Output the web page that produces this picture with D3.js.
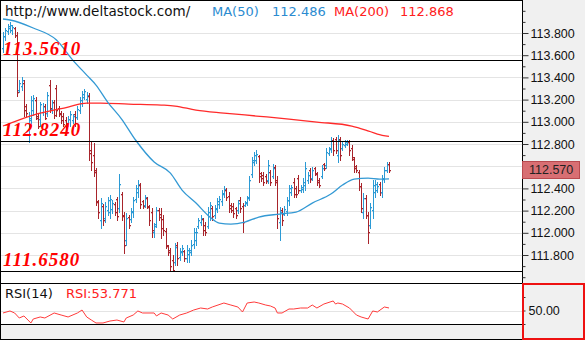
<!DOCTYPE html>
<html><head><meta charset="utf-8">
<script src="https://cdn.jsdelivr.net/npm/d3@7"></script>
<style>html,body{margin:0;padding:0;background:#fff}svg{display:block}</style>
</head><body>
<svg id="chart" width="585" height="340"></svg>
<script>
// ---------------- DATA ----------------
const opens = [113.665,113.773,113.818,113.845,113.827,113.845,113.782,113.286,113.322,113.349,
113.142,112.890,113.016,113.106,113.196,113.052,113.025,113.088,113.142,113.079,
113.331,113.115,113.178,113.304,113.124,113.079,113.052,113.016,112.980,113.025,
113.016,113.070,113.043,113.106,113.169,113.223,113.205,113.232,112.746,112.701,
112.547,112.277,112.115,112.241,112.133,112.205,112.187,112.214,112.259,112.304,
112.223,112.349,112.160,111.935,112.142,112.124,112.187,112.304,112.367,112.430,
112.286,112.250,112.313,112.232,112.187,112.007,112.079,112.205,112.169,112.124,
112.016,111.881,111.845,111.755,111.737,111.890,111.782,111.827,111.836,111.773,
111.809,111.827,111.899,111.935,112.061,112.097,112.124,112.070,112.061,112.151,
112.223,112.160,112.214,112.259,112.286,112.349,112.385,112.331,112.250,112.241,
112.223,112.205,112.295,112.241,112.250,112.268,112.322,112.529,112.638,112.656,
112.692,112.538,112.520,112.511,112.475,112.547,112.511,112.592,112.475,112.097,
112.205,112.169,112.196,112.295,112.367,112.457,112.403,112.493,112.385,112.394,
112.430,112.475,112.565,112.493,112.583,112.529,112.475,112.511,112.620,112.611,
112.719,112.764,112.836,112.845,112.701,112.845,112.764,112.791,112.800,112.818,
112.764,112.665,112.602,112.547,112.421,112.187,112.313,112.160,112.070,112.205,
112.367,112.385,112.439,112.367,112.484,112.565,112.620];
const highs = [113.809,113.845,113.881,113.899,113.872,113.854,113.809,113.376,113.403,113.376,
113.160,113.088,113.232,113.241,113.223,113.070,113.178,113.169,113.160,113.268,
113.376,113.196,113.196,113.331,113.142,113.097,113.079,113.043,113.052,113.097,
113.070,113.097,113.142,113.223,113.277,113.295,113.268,113.259,112.818,112.809,
112.583,112.295,112.313,112.259,112.277,112.322,112.340,112.295,112.277,112.322,
112.529,112.367,112.187,112.178,112.160,112.223,112.322,112.430,112.475,112.448,
112.295,112.340,112.322,112.250,112.223,112.088,112.232,112.223,112.223,112.160,
112.043,111.890,111.863,111.800,111.908,111.917,111.863,111.890,111.845,111.890,
111.863,111.935,112.043,112.043,112.133,112.160,112.133,112.097,112.232,112.277,
112.241,112.250,112.313,112.331,112.385,112.421,112.403,112.367,112.268,112.268,
112.232,112.295,112.322,112.268,112.286,112.331,112.511,112.683,112.728,112.746,
112.701,112.547,112.547,112.529,112.656,112.565,112.620,112.611,112.511,112.232,
112.223,112.241,112.322,112.430,112.430,112.493,112.421,112.520,112.430,112.493,
112.638,112.547,112.583,112.592,112.592,112.547,112.493,112.611,112.629,112.764,
112.773,112.863,112.854,112.863,112.881,112.863,112.818,112.836,112.836,112.836,
112.791,112.683,112.611,112.565,112.448,112.358,112.340,112.187,112.268,112.475,
112.475,112.457,112.457,112.520,112.592,112.638,112.638];
const lows = [113.629,113.737,113.791,113.809,113.791,113.764,113.232,113.268,113.286,113.052,
113.052,112.818,112.962,113.061,113.025,112.944,112.962,113.061,113.025,113.052,
113.088,113.079,113.034,113.052,113.052,112.989,112.962,112.935,112.962,112.962,
112.989,112.962,113.025,113.079,113.142,113.205,113.169,112.656,112.565,112.511,
112.250,112.133,112.043,112.070,112.097,112.160,112.133,112.178,112.160,112.115,
112.187,112.115,111.818,111.890,112.043,112.097,112.142,112.277,112.322,112.223,
112.223,112.232,112.223,112.070,111.962,111.962,112.052,112.115,111.953,111.980,
111.863,111.800,111.638,111.638,111.710,111.710,111.755,111.800,111.746,111.737,
111.737,111.800,111.863,111.890,112.043,112.070,111.980,111.980,112.043,112.115,
112.115,112.133,112.187,112.223,112.250,112.322,112.295,112.187,112.187,112.142,
112.133,112.178,112.187,112.007,112.241,112.250,112.295,112.502,112.611,112.629,
112.457,112.466,112.430,112.448,112.448,112.430,112.493,112.430,112.043,111.935,
112.070,112.160,112.160,112.250,112.340,112.322,112.322,112.358,112.367,112.367,
112.385,112.448,112.457,112.475,112.520,112.430,112.412,112.493,112.565,112.583,
112.701,112.728,112.701,112.719,112.638,112.656,112.746,112.773,112.791,112.701,
112.656,112.547,112.547,112.385,112.187,112.133,112.133,111.908,112.043,112.133,
112.322,112.367,112.340,112.322,112.457,112.547,112.547];
const closes = [113.773,113.827,113.863,113.872,113.854,113.782,113.268,113.349,113.376,113.106,
113.079,113.034,113.196,113.214,113.034,112.962,113.160,113.142,113.034,113.241,
113.124,113.178,113.061,113.106,113.070,113.016,112.980,112.953,113.025,113.070,
113.052,112.989,113.115,113.196,113.250,113.277,113.241,112.719,112.638,112.565,
112.286,112.187,112.268,112.115,112.241,112.295,112.304,112.268,112.187,112.151,
112.439,112.151,111.890,112.133,112.070,112.196,112.295,112.403,112.439,112.259,
112.241,112.322,112.241,112.115,112.025,112.061,112.205,112.142,112.043,112.025,
111.890,111.827,111.701,111.665,111.872,111.773,111.836,111.863,111.773,111.845,
111.845,111.890,112.007,112.007,112.115,112.133,112.025,112.007,112.187,112.250,
112.151,112.223,112.286,112.304,112.358,112.394,112.322,112.223,112.205,112.178,
112.160,112.268,112.223,112.097,112.277,112.313,112.475,112.656,112.701,112.710,
112.511,112.493,112.457,112.466,112.611,112.457,112.583,112.457,112.133,112.187,
112.115,112.214,112.295,112.403,112.412,112.349,112.349,112.385,112.412,112.457,
112.583,112.520,112.484,112.565,112.538,112.457,112.430,112.583,112.583,112.728,
112.755,112.836,112.746,112.746,112.836,112.701,112.800,112.818,112.827,112.746,
112.683,112.583,112.565,112.421,112.223,112.313,112.160,112.007,112.232,112.430,
112.439,112.421,112.367,112.493,112.565,112.620,112.570];

// Moving averages (bar index, value)
const ma50Idx = [0,3,13,23,30,36,40,45,51,57,65,72,77,83,89,93,98,104,110,119,126,133,141,146,151,157,162,166];
const ma50Val = [113.926,113.917,113.845,113.737,113.556,113.421,113.331,113.178,113.025,112.836,112.638,112.538,112.385,112.268,112.142,112.088,112.079,112.097,112.142,112.169,112.187,112.268,112.349,112.430,112.484,112.493,112.484,112.486];
const ma200Idx = [0,13,28,36,42,54,68,74,83,95,109,123,135,150,156,161,166];
const ma200Val = [112.962,113.061,113.133,113.169,113.169,113.160,113.151,113.142,113.106,113.079,113.052,113.025,112.998,112.962,112.926,112.890,112.868];

// RSI(14) (bar index, value)
const rsiIdx = [0,3,5,7,9,12,13,16,18,22,25,28,32,34,36,38,40,43,46,49,52,53,56,58,60,65,66,68,71,73,76,79,82,85,88,90,95,98,101,103,105,108,110,113,115,117,118,120,123,125,128,131,133,135,138,142,143,144,146,149,152,154,157,159,161,164,166];
const rsiVal = [46.3,49.3,46.3,38.9,41.9,31.5,37.4,40.4,38.9,46.3,43.3,40.4,46.3,50.7,40.4,35.9,31.5,31.5,34.4,35.9,33.0,38.9,43.3,49.3,46.3,46.3,41.9,46.3,43.3,37.4,43.3,46.3,50.7,53.7,52.2,55.2,61.1,58.1,55.2,47.8,61.1,62.6,61.1,58.1,56.7,53.7,46.3,46.3,52.2,52.2,53.7,53.7,58.1,53.7,59.6,64.1,59.6,61.1,59.6,53.7,43.3,40.4,37.4,49.3,47.8,55.2,53.771];

const levels = [113.561, 112.824, 111.658];
const levelLabels = ["113.5610", "112.8240", "111.6580"];
const priceTicks = [113.8,113.6,113.4,113.2,113.0,112.8,112.6,112.4,112.2,112.0,111.8];
const minorTicks = [114.0,113.9,113.7,113.5,113.3,113.1,112.9,112.7,112.5,112.3,112.1,111.9,111.7,111.6];
const rsiTicks = [70, 50, 30];
const lastPrice = 112.570;
const ma50Last = 112.486, ma200Last = 112.868, rsiLast = 53.771;
const siteText = "http://www.deltastock.com/";

// ---------------- CHART ----------------
const svg = d3.select("#chart");
const W = 585, H = 340, plotR = 522;
const mainBot = 272, rsiTop = 283, rsiBot = 324;
const UP = "#2b9ad5", DOWN = "#a8242b";
const x = d3.scaleLinear().domain([0, closes.length - 1]).range([3, 389]);
const y = d3.scaleLinear().domain([111.8, 113.8]).range([255, 33]);
const yr = d3.scaleLinear().domain([30, 70]).range([324, 297]);

svg.append("rect").attr("width", W).attr("height", H).attr("fill", "#fff");
svg.append("rect").attr("x", plotR).attr("y", 0).attr("width", W - plotR).attr("height", H).attr("fill", "#f0f0f0");
svg.append("rect").attr("x", 0).attr("y", rsiBot).attr("width", plotR).attr("height", H - rsiBot).attr("fill", "#f0f0f0");

svg.append("clipPath").attr("id", "mainClip").append("rect")
  .attr("x", 1).attr("y", 1).attr("width", plotR - 1).attr("height", mainBot - 1);
svg.append("clipPath").attr("id", "rsiClip").append("rect")
  .attr("x", 1).attr("y", rsiTop + 1).attr("width", plotR - 1).attr("height", rsiBot - rsiTop - 1);

// grid
svg.append("g").selectAll("line").data(priceTicks).join("line")
  .attr("x1", 1).attr("x2", plotR)
  .attr("y1", d => Math.round(y(d)) + 0.5).attr("y2", d => Math.round(y(d)) + 0.5)
  .attr("stroke", "#e4e4e4").attr("stroke-width", 1);
svg.append("line").attr("x1", 1).attr("x2", plotR)
  .attr("y1", Math.round(yr(50)) + 0.5).attr("y2", Math.round(yr(50)) + 0.5)
  .attr("stroke", "#e4e4e4");

// bars
const main = svg.append("g").attr("clip-path", "url(#mainClip)");
const bars = main.append("g").selectAll("g").data(d3.range(closes.length)).join("g")
  .attr("fill", i => closes[i] >= opens[i] ? UP : DOWN);
bars.append("rect")
  .attr("x", i => Math.round(x(i)))
  .attr("y", i => Math.round(y(highs[i])))
  .attr("width", 1)
  .attr("height", i => Math.max(1, Math.round(y(lows[i])) - Math.round(y(highs[i])) + 1));
bars.append("rect")
  .attr("x", i => Math.round(x(i)) - 1)
  .attr("y", i => Math.round(y(opens[i])))
  .attr("width", 1).attr("height", 1.3);
bars.append("rect")
  .attr("x", i => Math.round(x(i)) + 1)
  .attr("y", i => Math.round(y(closes[i])))
  .attr("width", 1).attr("height", 1.3);

// moving averages
const maLine = d3.line().x(d => x(d[0])).y(d => y(d[1])).curve(d3.curveMonotoneX);
main.append("path").datum(ma200Idx.map((v, i) => [v, ma200Val[i]]))
  .attr("d", maLine).attr("fill", "none").attr("stroke", "#ff2a2a").attr("stroke-width", 1.3);
main.append("path").datum(ma50Idx.map((v, i) => [v, ma50Val[i]]))
  .attr("d", maLine).attr("fill", "none").attr("stroke", "#3399d4").attr("stroke-width", 1.3);

// level lines
svg.append("g").selectAll("line").data(levels).join("line")
  .attr("x1", 0).attr("x2", plotR)
  .attr("y1", d => Math.round(y(d)) + 0.5).attr("y2", d => Math.round(y(d)) + 0.5)
  .attr("stroke", "#000").attr("stroke-width", 1);
svg.append("g").selectAll("text").data(levels).join("text")
  .attr("x", 3).attr("y", d => Math.round(y(d)) - 5)
  .attr("font-family", "'Liberation Serif','Times New Roman',serif")
  .attr("font-weight", "bold").attr("font-style", "italic")
  .attr("font-size", 19).attr("letter-spacing", 1)
  .attr("fill", "#ff0000")
  .text((d, i) => levelLabels[i]);

// RSI line
svg.append("g").attr("clip-path", "url(#rsiClip)").append("path")
  .datum(rsiIdx.map((v, i) => [v, rsiVal[i]]))
  .attr("d", d3.line().x(d => x(d[0])).y(d => yr(d[1])))
  .attr("fill", "none").attr("stroke", "#ff3b3b").attr("stroke-width", 1);

// frame lines
const frame = svg.append("g").attr("stroke", "#000").attr("stroke-width", 1);
frame.append("line").attr("x1", 0).attr("x2", plotR).attr("y1", 0.5).attr("y2", 0.5);
frame.append("line").attr("x1", 0).attr("x2", plotR).attr("y1", mainBot - 0.5).attr("y2", mainBot - 0.5);
frame.append("line").attr("x1", 0).attr("x2", plotR).attr("y1", rsiTop + 0.5).attr("y2", rsiTop + 0.5);
frame.append("line").attr("x1", 0).attr("x2", plotR).attr("y1", rsiBot + 0.5).attr("y2", rsiBot + 0.5);
frame.append("line").attr("x1", 0).attr("x2", plotR).attr("y1", H - 0.5).attr("y2", H - 0.5);
frame.append("line").attr("x1", 0.5).attr("x2", 0.5).attr("y1", 0).attr("y2", H);
frame.append("line").attr("x1", plotR + 0.5).attr("x2", plotR + 0.5).attr("y1", 0).attr("y2", rsiTop);

// price axis
const axisFont = "'Liberation Sans',Arial,sans-serif";
const axisG = svg.append("g").attr("transform", `translate(${plotR + 0.5},0)`)
  .call(d3.axisRight(y).tickValues(priceTicks).tickFormat(d3.format(".3f")).tickSize(6).tickPadding(2));
axisG.select(".domain").remove();
axisG.selectAll("line").attr("stroke", "#333");
axisG.selectAll("text").attr("font-family", axisFont).attr("font-size", 12.5).attr("fill", "#111");
const minorG = svg.append("g").attr("transform", `translate(${plotR + 0.5},0)`)
  .call(d3.axisRight(y).tickValues(minorTicks).tickFormat("").tickSize(3));
minorG.select(".domain").remove();
minorG.selectAll("line").attr("stroke", "#333");

// current price marker (drawn over the axis labels, as in the original)
const yp = y(lastPrice);
svg.append("rect").attr("x", plotR + 0.5).attr("y", Math.round(yp) - 8.5).attr("width", 57).attr("height", 17)
  .attr("fill", "#d86f73").attr("stroke", "#b94a4f").attr("stroke-width", 1);
svg.append("text").attr("x", plotR + 7).attr("y", yp).attr("dy", "0.35em")
  .attr("font-family", axisFont).attr("font-size", 12.5).attr("fill", "#222")
  .text(d3.format(".3f")(lastPrice));

// RSI axis
const rsiAxis = svg.append("g").attr("transform", `translate(${plotR + 0.5},0)`)
  .call(d3.axisRight(yr).tickValues(rsiTicks).tickFormat(d => d === 50 ? d3.format(".2f")(d) : "").tickSize(3).tickPadding(3));
rsiAxis.select(".domain").remove();
rsiAxis.selectAll("line").attr("stroke", "#333");
rsiAxis.selectAll("text").attr("font-family", axisFont).attr("font-size", 12.5).attr("fill", "#111");
svg.append("rect").attr("x", plotR + 1).attr("y", rsiTop + 1).attr("width", W - plotR - 2).attr("height", H - rsiTop - 2)
  .attr("fill", "none").attr("stroke", "#ee1111").attr("stroke-width", 2);

// header texts
const hdrFont = "'DejaVu Sans',Verdana,sans-serif";
const hdr = [
  {t: siteText, x: 5, c: "#111", s: 13.5},
  {t: "MA(50)", x: 212, c: "#2b8bd0", s: 13},
  {t: d3.format(".3f")(ma50Last), x: 272, c: "#2b8bd0", s: 13},
  {t: "MA(200)", x: 334, c: "#ff2020", s: 13},
  {t: d3.format(".3f")(ma200Last), x: 400, c: "#ff2020", s: 13}
];
svg.append("g").selectAll("text").data(hdr).join("text")
  .attr("x", d => d.x).attr("y", 16)
  .attr("font-family", hdrFont).attr("font-size", d => d.s).attr("fill", d => d.c)
  .text(d => d.t);
svg.append("text").attr("x", 5).attr("y", 298).attr("font-family", hdrFont).attr("font-size", 13)
  .attr("fill", "#111").text("RSI(14)");
svg.append("text").attr("x", 66).attr("y", 298).attr("font-family", hdrFont).attr("font-size", 13)
  .attr("fill", "#ff2020").text("RSI:" + d3.format(".3f")(rsiLast));
</script>
</body></html>
